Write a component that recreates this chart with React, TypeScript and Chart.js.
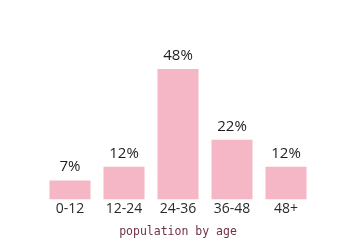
import React, { useEffect, useRef } from "react";
import { Chart, registerables } from "chart.js";

Chart.register(...registerables);

const categories = ["0-12", "12-24", "24-36", "36-48", "48+"];
const values = [7, 12, 48, 22, 12];
const valueLabels = ["7%", "12%", "48%", "22%", "12%"];
const axisTitle = "population by age";

const labelPlugin = {
  id: "barLabels",
  afterDatasetsDraw(chart: any) {
    const ctx = chart.ctx;
    const meta = chart.getDatasetMeta(0);
    ctx.save();
    ctx.font = "15px 'Open Sans', sans-serif";
    ctx.fillStyle = "#1e1e1e";
    ctx.textAlign = "center";
    ctx.textBaseline = "alphabetic";
    meta.data.forEach((bar: any, i: number) => {
      ctx.fillText(valueLabels[i], bar.x, bar.y - 9);
    });
    ctx.restore();
  },
};

export default function App() {
  const ref = useRef<HTMLCanvasElement | null>(null);
  useEffect(() => {
    document.body.style.margin = "0";
    const chart = new Chart(ref.current!, {
      type: "bar",
      data: {
        labels: categories,
        datasets: [
          {
            data: values,
            backgroundColor: "#f5b7c6",
            borderWidth: 0,
            barPercentage: 0.76,
            categoryPercentage: 1,
          },
        ],
      },
      options: {
        responsive: false,
        animation: false,
        layout: { padding: { top: 69, left: 43, right: 35, bottom: 5 } },
        plugins: { legend: { display: false }, tooltip: { enabled: false } },
        scales: {
          y: { display: false, min: 0, max: 48 },
          x: {
            grid: { display: false, drawTicks: false, tickLength: 0 },
            border: { display: false },
            ticks: {
              color: "#2a2a2a",
              font: { family: "'Open Sans', sans-serif", size: 14 },
              padding: 1,
            },
            title: {
              display: true,
              text: axisTitle,
              color: "#6e3242",
              font: { family: "'DejaVu Sans Mono', monospace", size: 11.5 },
              padding: { top: 7, bottom: 0 },
            },
          },
        },
      },
      plugins: [labelPlugin],
    });
    return () => chart.destroy();
  }, []);
  return <canvas ref={ref} width={348} height={244} style={{ display: "block" }} />;
}
